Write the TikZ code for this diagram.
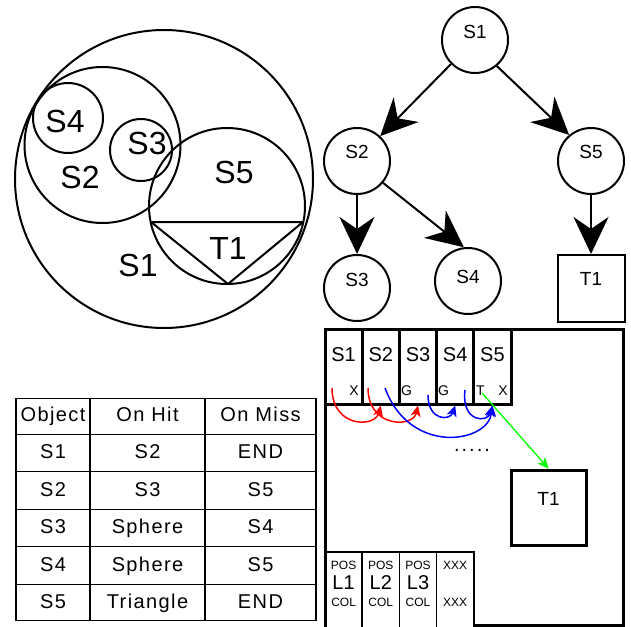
\documentclass[tikz,border=0pt]{standalone}
\usepackage{fontspec}
\setmainfont{Liberation Sans}
\usetikzlibrary{arrows.meta}
\definecolor{pred}{RGB}{255,0,0}
\definecolor{pblue}{RGB}{0,0,255}
\definecolor{pgreen}{RGB}{0,255,0}
\tikzset{
  venn/.style={draw, line width=2pt},
  vlabel/.style={font=\fontsize{32}{36}\selectfont, text height=22.9pt, text depth=0pt},
  tnode/.style={circle, draw, line width=2pt, minimum size=66pt, inner sep=0pt},
  tbox/.style={rectangle, draw, line width=2pt, minimum size=67pt, inner sep=0pt},
  tlab/.style={font=\fontsize{19}{22}\selectfont, text height=13.6pt, text depth=0pt},
  tarrow/.style={line width=2pt, -{Stealth[length=37pt,width=35pt,inset=12pt]}},
  cellbox/.style={rectangle, draw, line width=3pt, minimum width=37.2pt, minimum height=75pt, inner sep=0pt},
  celltext/.style={font=\fontsize{20}{24}\selectfont, text height=14.3pt, text depth=0pt},
  smalltext/.style={font=\fontsize{14}{16}\selectfont, text height=10pt, text depth=0pt},
  lcell/.style={rectangle, draw, line width=1.5pt, minimum width=37.2pt, minimum height=80pt, inner sep=0pt},
  ltext/.style={font=\fontsize{12}{14}\selectfont, text height=8.6pt, text depth=0pt},
  lbig/.style={font=\fontsize{20}{24}\selectfont, text height=14.3pt, text depth=0pt},
  tline/.style={line width=1.5pt},
  tabtext/.style={font=\fontsize{20}{24}\selectfont\addfontfeatures{LetterSpace=7}, text height=14.3pt, text depth=0pt},
  dotstext/.style={font=\fontsize{20}{24}\selectfont\addfontfeatures{LetterSpace=10}},
  redarc/.style={pred, line width=1.5pt, -{Stealth[length=11pt,width=10pt,inset=3pt]}},
  bluearc/.style={pblue, line width=1.5pt, -{Stealth[length=11pt,width=10pt,inset=3pt]}},
  greenarr/.style={pgreen, line width=1.3pt, -{Stealth[length=11pt,width=10pt,inset=3pt]}},
}
\begin{document}
\begin{tikzpicture}[x=1pt,y=-1pt]
\useasboundingbox[fill=white] (0,0) rectangle (631,626);

% ---------- left: bounding volumes ----------
\draw[venn] (164,179) circle[radius=149pt];
\draw[venn] (102.5,145) circle[radius=78pt];
\draw[venn] (68,118) circle[radius=35pt];
\draw[venn] (141,150) circle[radius=31pt];
\draw[venn] (227,206) circle[radius=78pt];
\draw[venn, line join=round] (151,222) -- (303,222) -- (228,284) -- cycle;
\node[vlabel] (vS4) at (65,121) {S4};
\node[vlabel] (vS3) at (147,143) {S3};
\node[vlabel] (vS2) at (80,177) {S2};
\node[vlabel] (vS5) at (234,172) {S5};
\node[vlabel] (vT1) at (228,248) {T1};
\node[vlabel] (vS1) at (138,265) {S1};

% ---------- top right: tree ----------
\node[tnode, label={[tlab, yshift=8pt]center:S1}] (n1) at (475,40) {};
\node[tnode, label={[tlab, yshift=9pt]center:S2}] (n2) at (357,161) {};
\node[tnode, label={[tlab, yshift=9pt]center:S5}] (n5) at (591,161) {};
\node[tnode, label={[tlab, yshift=8pt]center:S3}] (n3) at (357,288) {};
\node[tnode, label={[tlab, yshift=4pt]center:S4}] (n4) at (468,281) {};
\node[tbox, label={[tlab, yshift=10pt]center:T1}] (nT) at (591,288.5) {};
\draw[tarrow] (n1.225) -- (n2.47);
\draw[tarrow] (n1.310) -- (n5.130);
\draw[tarrow] (n2.south) -- (n3.north);
\draw[tarrow] (n2.-40) -- (n4.97);
\draw[tarrow] (n5.south) -- (nT.north);

% ---------- bottom right: memory layout ----------
\draw[line width=3pt] (474,625) -- (623,625) -- (623,329) -- (325,329) -- (325,627);
\node[cellbox] (c1) at (343.6,366.5) {};
\node[cellbox] (c2) at (380.8,366.5) {};
\node[cellbox] (c3) at (418.0,366.5) {};
\node[cellbox] (c4) at (455.2,366.5) {};
\node[cellbox] (c5) at (492.4,366.5) {};
\node[celltext] (c1t) at (343.6,354) {S1};
\node[celltext] (c2t) at (380.8,354) {S2};
\node[celltext] (c3t) at (418.0,354) {S3};
\node[celltext] (c4t) at (455.2,354) {S4};
\node[celltext] (c5t) at (492.4,354) {S5};
\node[smalltext] (c1x) at (354,390) {X};
\node[smalltext] (c3g) at (406.5,390) {G};
\node[smalltext] (c4g) at (443.5,390) {G};
\node[smalltext] (c5t2) at (480.5,390) {T};
\node[smalltext] (c5x) at (503,390) {X};

\coordinate (r1s) at (332,388);
\coordinate (r2s) at (368,388);
\coordinate (b1s) at (385,388);
\coordinate (b2s) at (428,395);
\coordinate (b3s) at (465,390);
\coordinate (gs) at (482,393);
\draw[redarc] (r1s) .. controls (332,428) and (375,428) .. (c2.south);
\draw[redarc] (r2s) .. controls (368,428) and (413,428) .. (c3.south);
\draw[bluearc] (b1s) .. controls (410,456) and (488,443) .. (c5.south);
\draw[bluearc] (b2s) .. controls (428,421) and (450,421) .. (c4.south);
\draw[bluearc] (b3s) .. controls (461,423) and (488,423) .. (c5.south);

\node[rectangle, draw, line width=3pt, minimum size=75pt, inner sep=0pt] (mT) at (548.5,507.5) {};
\node[celltext, font=\fontsize{19}{22}\selectfont] (mTt) at (548.5,498) {T1};
\draw[greenarr] (gs) -- (mT.north);
\node[dotstext] (dots) at (472,450) {.....};

\node[lcell] (l1) at (343.6,592) {};
\node[lcell] (l2) at (380.8,592) {};
\node[lcell] (l3) at (418.0,592) {};
\node[lcell] (l4) at (455.2,592) {};
\foreach \x/\n [count=\i] in {343.6/1,380.8/2,418.0/3}{
  \node[ltext] (lp\i) at (\x,565) {POS};
  \node[lbig] (ll\i) at (\x,582) {L\n};
  \node[ltext] (lc\i) at (\x,602) {COL};
}
\node[ltext] (lx1) at (455.2,565) {XXX};
\node[ltext] (lx2) at (455.2,602) {XXX};

% ---------- bottom left: table ----------
\draw[tline] (16,398.3) rectangle (316,620.5);
\draw[tline] (90,398.3) -- (90,620.5);
\draw[tline] (205,398.3) -- (205,620.5);
\foreach \y in {434.3,471.7,509.3,546.7,584.3}{
  \draw[tline] (16,\y) -- (316,\y);
}
\foreach \y/\a/\b/\c [count=\i] in {414/Object/On Hit/On Miss,451/S1/S2/END,489/S2/S3/S5,526.5/S3/Sphere/S4,564/S4/Sphere/S5,601.5/S5/Triangle/END}{
  \node[tabtext] (ta\i) at (53,\y) {\a};
  \node[tabtext] (tb\i) at (147.5,\y) {\b};
  \node[tabtext] (tc\i) at (260.5,\y) {\c};
}
\end{tikzpicture}
\end{document}
